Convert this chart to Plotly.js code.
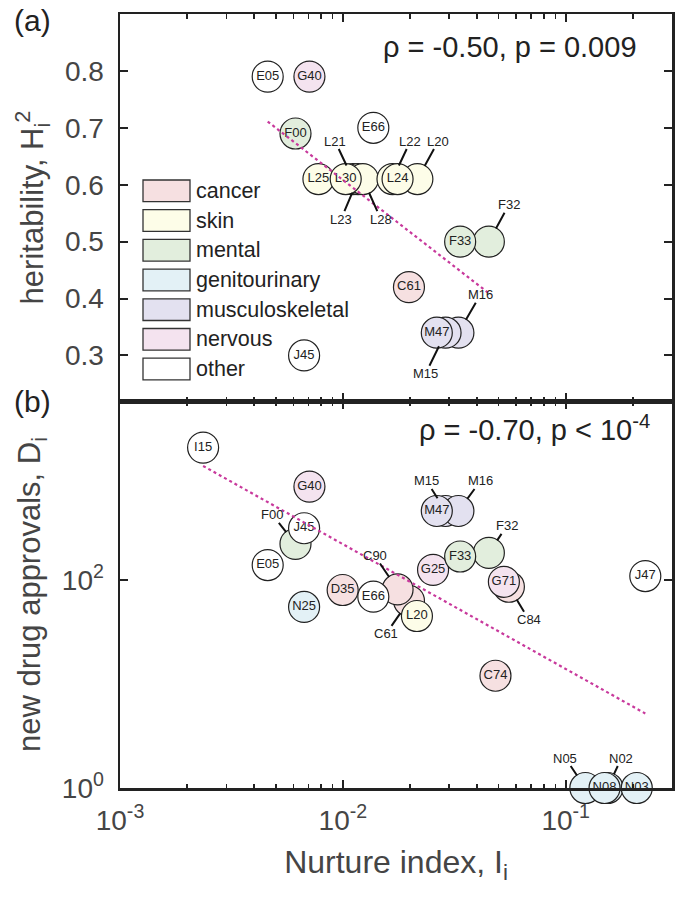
<!DOCTYPE html>
<html>
<head>
<meta charset="utf-8">
<script src="https://cdn.plot.ly/plotly-3.0.1.min.js"></script>
<style>html,body{margin:0;padding:0;background:#fff;}#chart{width:675px;height:904px;}</style>
</head>
<body>
<div id="chart"></div>
<script>
// ---------- DATA ----------
const categories = ['cancer', 'skin', 'mental', 'genitourinary', 'musculoskeletal', 'nervous', 'other'];
const categoryColors = ['#f6e0e1', '#fdfde8', '#e2eedd', '#e3f1f6', '#e3e1f0', '#f4e3ef', '#ffffff'];

// Panel (a): heritability vs nurture index (draw order: hidden circles first)
const topCodes = ['L21', 'L23', 'L28', 'L22', 'L20', 'F32', 'M16', 'M15', 'E05', 'G40', 'F00', 'L25', 'L30', 'L24', 'E66', 'F33', 'C61', 'M47', 'J45'];
const topCats  = ['skin','skin','skin','skin','skin','mental','musculoskeletal','musculoskeletal','other','nervous','mental','skin','skin','skin','other','mental','cancer','musculoskeletal','other'];
const topX     = [0.0111, 0.0117, 0.0123, 0.0167, 0.0216, 0.0452, 0.0330, 0.0289, 0.0046, 0.00708, 0.00613, 0.00777, 0.0103, 0.0176, 0.0137, 0.0336, 0.0198, 0.0264, 0.0067];
const topY     = [0.61, 0.61, 0.61, 0.61, 0.61, 0.50, 0.34, 0.34, 0.79, 0.79, 0.69, 0.61, 0.61, 0.61, 0.70, 0.50, 0.42, 0.34, 0.30];
const topFitX  = [0.0046, 0.046];
const topFitY  = [0.711, 0.407];
const topStat  = 'ρ = -0.50, p = 0.009';

// Panel (b): new drug approvals vs nurture index
const botCodes = ['F00', 'C61', 'C90', 'M15', 'M16', 'F32', 'C84', 'N05', 'N02', 'I15', 'G40', 'J45', 'E05', 'N25', 'D35', 'E66', 'L20', 'G25', 'F33', 'M47', 'G71', 'C74', 'J47', 'N08', 'N03'];
const botCats  = ['mental','cancer','cancer','musculoskeletal','musculoskeletal','mental','cancer','genitourinary','genitourinary','other','nervous','other','other','genitourinary','cancer','other','skin','nervous','mental','musculoskeletal','nervous','cancer','other','genitourinary','genitourinary'];
const botX     = [0.00613, 0.0198, 0.0176, 0.0289, 0.0330, 0.0452, 0.0556, 0.1225, 0.154, 0.00236, 0.00708, 0.0067, 0.0046, 0.0067, 0.00998, 0.0137, 0.0215, 0.0254, 0.0336, 0.0264, 0.0528, 0.0484, 0.2276, 0.1494, 0.2084];
const botY     = [222, 63, 81, 460, 460, 182, 86, 1, 1, 1871, 789, 314, 139, 55, 80, 69, 45, 125, 168, 460, 96, 12, 109, 1, 1];
const botFitX  = [0.00236, 0.2276];
const botFitY  = [1247, 5.2];
const botStat  = 'ρ = -0.70, p < 10<sup>-4</sup>';

const xTickVals = [0.001, 0.01, 0.1];
const xTickText = ['10<sup>-3</sup>', '10<sup>-2</sup>', '10<sup>-1</sup>'];
const xMinorVals = [0.002,0.003,0.004,0.005,0.006,0.007,0.008,0.009,0.02,0.03,0.04,0.05,0.06,0.07,0.08,0.09,0.2,0.3];
const topYTicks = [0.3, 0.4, 0.5, 0.6, 0.7, 0.8];
const botYTickVals = [1, 100];
const botYTickText = ['10<sup>0</sup>', '10<sup>2</sup>'];

// ---------- STYLE / LAYOUT CONFIG ----------
// leader-label offsets in px (label position relative to circle centre)
const topLeaders = {L21:[-18,-38], L22:[18,-38], L20:[21,-38], L23:[-17,40], L28:[18,40], F32:[20,-37], M16:[22,-38], M15:[-20,41]};
const botLeaders = {F00:[-23,-29], M15:[-19,-30], M16:[22,-30], F32:[18,-27], C90:[-23,-34], C61:[-23,33], C84:[20,33], N05:[-20,-30], N02:[14,-30]};

const FONT = 'Liberation Sans, Arial, Helvetica, sans-serif';
const GRAY = '#454545';
const INK = '#222222';
const colorOf = c => categoryColors[categories.indexOf(c)];

function pick(arr, idx) { return idx.map(i => arr[i]); }
function circleTraces(codes, cats, xs, ys, leaders, xa, ya) {
  const hid = [], lab = [];
  codes.forEach((c, i) => (leaders[c] ? hid : lab).push(i));
  const mk = idx => ({size: 31, color: pick(cats, idx).map(colorOf), line: {color: INK, width: 1.2}});
  return [
    {type: 'scatter', mode: 'markers', xaxis: xa, yaxis: ya, x: pick(xs, hid), y: pick(ys, hid),
     marker: mk(hid), cliponaxis: false, hoverinfo: 'skip'},
    {type: 'scatter', mode: 'markers+text', xaxis: xa, yaxis: ya, x: pick(xs, lab), y: pick(ys, lab),
     text: pick(codes, lab), textposition: 'middle center',
     textfont: {family: FONT, size: 13, color: INK},
     marker: mk(lab), cliponaxis: false, hoverinfo: 'skip'}
  ];
}
function fitTrace(xs, ys, xa, ya) {
  return {type: 'scatter', mode: 'lines', xaxis: xa, yaxis: ya, x: xs, y: ys,
    line: {color: '#c8399c', width: 2.2, dash: 'dot'}, hoverinfo: 'skip'};
}
function leaderAnns(codes, xs, ys, leaders, xref, yref, logY) {
  const out = [];
  codes.forEach((c, i) => {
    if (!leaders[c]) return;
    out.push({xref, yref, x: Math.log10(xs[i]), y: logY ? Math.log10(ys[i]) : ys[i],
      text: c, showarrow: true, arrowhead: 0, arrowwidth: 2, arrowcolor: '#111',
      ax: leaders[c][0], ay: leaders[c][1], standoff: 15, startstandoff: 0,
      font: {family: FONT, size: 13, color: INK}, borderpad: 0});
  });
  return out;
}

const data = [].concat(
  circleTraces(topCodes, topCats, topX, topY, topLeaders, 'x2', 'y2'),
  [fitTrace(topFitX, topFitY, 'x2', 'y2')],
  circleTraces(botCodes, botCats, botX, botY, botLeaders, 'x', 'y'),
  [fitTrace(botFitX, botFitY, 'x', 'y')]
);

const axBase = {
  showline: true, linewidth: 2.5, linecolor: INK, mirror: 'ticks',
  ticks: 'inside', ticklen: 8, tickwidth: 2, tickcolor: INK,
  showgrid: false, zeroline: false,
  tickfont: {family: FONT, size: 28, color: GRAY}
};
const xCommon = Object.assign({}, axBase, {
  type: 'log', range: [-3, -0.523], tickmode: 'array', tickvals: xTickVals, ticktext: xTickText,
  minor: {tickmode: 'array', tickvals: xMinorVals, ticks: 'inside', ticklen: 4.5, tickwidth: 1.6, tickcolor: INK, showgrid: false}
});

// legend drawn as shapes + annotations in the top panel
const shapes = [];
const legendAnns = [];
const legTop = 180, legStep = 29.7, legH = 21.7;
const panelBot = 401, panelH = 387;
categories.forEach((c, i) => {
  const t = legTop + i * legStep;
  shapes.push({type: 'rect', xref: 'x2 domain', yref: 'y2 domain',
    x0: (143 - 120) / 552, x1: (190 - 120) / 552,
    y0: (panelBot - t - legH) / panelH, y1: (panelBot - t) / panelH,
    fillcolor: categoryColors[i], line: {color: '#333', width: 1.3}, layer: 'above'});
  legendAnns.push({xref: 'x2 domain', yref: 'y2 domain', x: (194 - 120) / 552, y: (panelBot - t - legH / 2) / panelH,
    xanchor: 'left', yanchor: 'middle', showarrow: false, text: c,
    font: {family: FONT, size: 21.5, color: INK}});
});

const annotations = [].concat(
  leaderAnns(topCodes, topX, topY, topLeaders, 'x2', 'y2', false),
  leaderAnns(botCodes, botX, botY, botLeaders, 'x', 'y', true),
  legendAnns,
  [
    {xref: 'paper', yref: 'paper', x: (639 - 120) / 552, y: (788 - 47) / 774, xanchor: 'right', yanchor: 'middle',
     text: topStat, showarrow: false, font: {family: FONT, size: 29, color: INK}},
    {xref: 'paper', yref: 'paper', x: (652 - 120) / 552, y: (788 - 428) / 774, xanchor: 'right', yanchor: 'middle',
     text: botStat, showarrow: false, font: {family: FONT, size: 29, color: INK}},
    {xref: 'paper', yref: 'paper', x: (32 - 120) / 552, y: (788 - 20) / 774, xanchor: 'center', yanchor: 'middle',
     text: '(a)', showarrow: false, font: {family: FONT, size: 30, color: INK}},
    {xref: 'paper', yref: 'paper', x: (32 - 120) / 552, y: (788 - 402) / 774, xanchor: 'center', yanchor: 'middle',
     text: '(b)', showarrow: false, font: {family: FONT, size: 30, color: INK}}
  ]
);

const layout = {
  width: 675, height: 904,
  margin: {l: 120, r: 3, t: 14, b: 116},
  paper_bgcolor: '#fff', plot_bgcolor: '#fff',
  showlegend: false,
  font: {family: FONT, color: GRAY},
  xaxis: Object.assign({}, xCommon, {anchor: 'y', domain: [0, 1], ticklabelstandoff: 6,
    title: {text: 'Nurture index, I<sub>i</sub>', font: {family: FONT, size: 32, color: GRAY}, standoff: 16}}),
  xaxis2: Object.assign({}, xCommon, {anchor: 'y2', domain: [0, 1], matches: 'x', showticklabels: false}),
  yaxis: Object.assign({}, axBase, {anchor: 'x', domain: [0, 0.5], type: 'log', range: [0, 3.72],
    tickmode: 'array', tickvals: botYTickVals, ticktext: botYTickText, ticklabelstandoff: 8,
    title: {text: 'new drug approvals, D<sub>i</sub>', font: {family: FONT, size: 31, color: GRAY}, standoff: 12}}),
  yaxis2: Object.assign({}, axBase, {anchor: 'x2', domain: [0.5, 1], range: [0.22, 0.9],
    tickmode: 'array', tickvals: topYTicks, ticktext: topYTicks.map(v => v.toFixed(1)), ticklabelstandoff: 8,
    title: {text: 'heritability, H<sub>i</sub><sup>2</sup>', font: {family: FONT, size: 31, color: GRAY}, standoff: 12}}),
  shapes, annotations
};

Plotly.newPlot('chart', data, layout, {displayModeBar: false, staticPlot: true});
</script>
</body>
</html>
